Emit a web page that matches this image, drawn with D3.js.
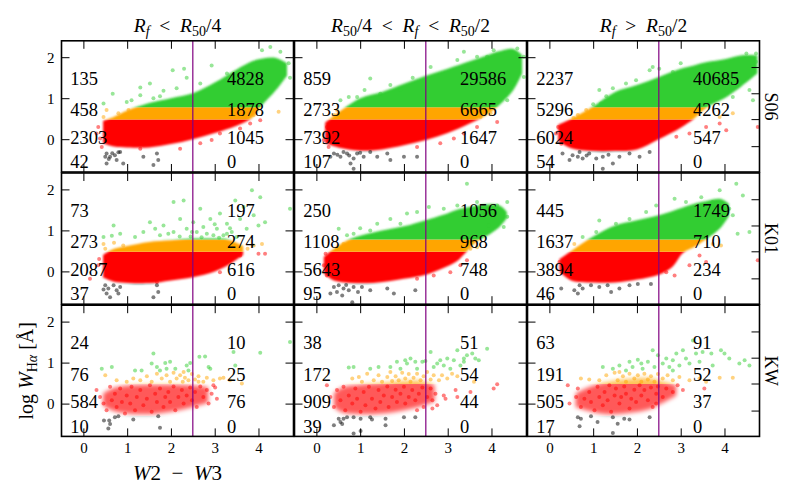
<!DOCTYPE html>
<html><head><meta charset="utf-8">
<script src="https://cdn.jsdelivr.net/npm/d3@7"></script>
<style>body{margin:0;background:#fff} svg text{font-family:"Liberation Serif","DejaVu Serif",serif;fill:#000}</style>
</head><body><svg id="c" width="800" height="500"></svg>
<script>
// ---------------- data ----------------
const colTitles = [
  [["R","i"],["f","isub"],["\u2002<\u2002",""],["R","i"],["50","sub"],["/4",""]],
  [["R","i"],["50","sub"],["/4\u2002<\u2002",""],["R","i"],["f","isub"],["\u2002<\u2002",""],["R","i"],["50","sub"],["/2",""]],
  [["R","i"],["f","isub"],["\u2002>\u2002",""],["R","i"],["50","sub"],["/2",""]]
];
const rowLabels = ["S06","K01","KW"];
const xTicks = [0,1,2,3,4];
const yTicks = [0,1,2];
const twinTicks = [1.76,1.12,0.49,-0.17];
const xDomain = [-0.5,4.8];
const yDomain = [-0.8,2.4];
const splitX = 2.5;
const bandEdges = [-0.3,0.48,0.78];
const bandColors = ["#000000","#ff0000","#ffa500","#32cd32"];
const countY = [1.48,0.72,0.04,-0.55];
const countX = [-0.3,3.28];

// counts [green, orange, red, black] left / right of split
const countsLeft = [
  [135,458,2303,42],[859,2733,7392,107],[2237,5296,6024,54],
  [73,273,2087,37],[250,1108,5643,95],[445,1637,3894,46],
  [24,76,584,10],[38,172,909,39],[63,191,505,17]
];
const countsRight = [
  [4828,1878,1045,0],[29586,6665,1647,0],[40685,4262,547,0],
  [197,274,616,0],[1056,968,748,0],[1749,710,234,0],
  [10,25,76,0],[51,54,44,0],[91,52,37,0]
];

// dense-cloud envelopes [x, lower, upper]
const env11 = [[0.45,-0.1,0.45],[0.7,-0.18,0.55],[1.0,-0.2,0.7],[1.5,-0.2,0.88],[2.0,-0.12,1.0],[2.5,0.0,1.12],[3.0,0.15,1.38],[3.5,0.33,1.7],[3.85,0.52,1.9],[4.1,0.85,1.97],[4.4,1.2,1.98],[4.65,1.55,1.85]];
const env12 = [[0.2,-0.1,0.4],[0.5,-0.2,0.65],[1.0,-0.28,1.0],[1.5,-0.25,1.15],[2.0,-0.15,1.35],[2.5,-0.02,1.55],[3.0,0.15,1.72],[3.5,0.38,1.9],[3.9,0.6,2.05],[4.2,0.85,2.15],[4.5,1.2,2.2],[4.7,1.6,2.05]];
const env13 = [[0.2,-0.05,0.35],[0.5,-0.22,0.5],[1.0,-0.29,0.8],[1.5,-0.29,1.15],[2.0,-0.25,1.32],[2.5,0.0,1.52],[3.0,0.28,1.72],[3.3,0.5,1.8],[3.6,0.78,1.88],[4.0,1.0,1.95],[4.4,1.3,2.05],[4.75,1.6,2.05]];
const env21 = [[0.45,-0.15,0.4],[0.7,-0.25,0.55],[1.0,-0.28,0.62],[1.5,-0.29,0.72],[2.0,-0.22,0.76],[2.5,-0.14,0.8],[3.0,0.0,0.8],[3.3,0.15,0.78],[3.65,0.4,0.62]];
const env22 = [[0.17,-0.05,0.35],[0.4,-0.22,0.55],[0.8,-0.28,0.8],[1.3,-0.28,0.95],[2.0,-0.18,1.1],[2.5,-0.08,1.25],[2.9,0.08,1.38],[3.2,0.24,1.5],[3.4,0.45,1.55],[3.65,0.72,1.6],[3.95,0.9,1.64],[4.2,1.1,1.6],[4.35,1.3,1.45]];
const env23 = [[0.23,0.0,0.3],[0.5,-0.22,0.5],[1.0,-0.27,0.85],[1.5,-0.27,1.12],[2.0,-0.2,1.25],[2.5,-0.08,1.37],[2.8,0.1,1.47],[3.05,0.45,1.56],[3.35,0.62,1.66],[3.6,0.8,1.72],[3.9,1.05,1.77],[4.1,1.35,1.65]];
const env31 = [[0.45,-0.05,0.25],[0.7,-0.18,0.38],[1.0,-0.24,0.44],[1.5,-0.26,0.46],[2.0,-0.2,0.46],[2.5,-0.08,0.44],[2.85,0.02,0.4]];
const env32 = [[0.4,-0.08,0.25],[0.6,-0.22,0.4],[1.0,-0.26,0.46],[1.5,-0.24,0.5],[2.0,-0.16,0.55],[2.4,-0.06,0.55],[2.7,0.05,0.45]];
const env33 = [[0.6,-0.08,0.25],[0.9,-0.18,0.4],[1.3,-0.26,0.52],[1.8,-0.23,0.6],[2.3,-0.13,0.62],[2.55,0.0,0.55],[2.9,0.2,0.45]];

// scattered points [x, y]
const pts11 = [[0.46,0.87],[0.67,1.11],[1.3,1.26],[1.52,1.36],[2.04,1.68],[2.3,1.72],[2.93,1.8],[4.27,2.25],[4.69,1.85],[4.72,1.5],[3.28,1.6],[1.83,1.18],[0.99,0.91],[2.36,1.5],[2.67,1.36],[3.66,1.44],[1.3,1.07],[2.13,1.24],[4.08,2.17],[4.5,2.13],[1.6,1.0],[1.1,0.95],[1.75,1.05],
 [0.53,0.71],[0.8,0.63],[1.03,0.71],[4.46,0.67],[0.46,0.54],[3.89,0.59],
 [0.3,0.14],[0.34,0.3],[0.42,-0.19],[1.3,-0.23],[2.21,-0.23],[2.67,-0.1],[3.12,0.14],[3.58,0.26],[3.81,0.38],[4.04,0.46],[2.93,-0.02],[0.38,0.02],
 [0.53,-0.35],[0.61,-0.43],[0.72,-0.39],[0.84,-0.31],[0.76,-0.51],[0.53,-0.59],[0.91,-0.59],[1.37,-0.43],[1.68,-0.35],[1.71,-0.51],[1.6,-0.63],[0.8,-0.32],[0.5,-0.43],[0.66,-0.34],[0.58,-0.48]];
const pts12 = [[0.74,1.03],[0.55,0.95],[1.23,1.48],[1.69,1.32],[1.92,1.2],[3.37,2.13],[3.67,2.01],[3.9,2.01],[4.05,2.17],[4.59,2.21],[4.74,2.01],[4.74,1.52],[3.22,1.93],[2.61,1.76],[1.46,1.11],[0.93,1.03],[4.36,0.95],[4.47,1.36],[1.1,1.2],[2.2,1.5],
 [0.47,0.71],[0.62,0.63],[3.98,0.63],[3.75,0.54],[0.4,0.59],
 [0.24,0.3],[0.17,-0.02],[0.28,-0.19],[2.3,-0.19],[2.83,-0.1],[3.37,0.14],[3.67,0.3],[4.13,0.42],[3.14,0.02],
 [0.4,-0.35],[0.55,-0.43],[0.7,-0.35],[0.85,-0.47],[0.62,-0.31],[0.93,-0.35],[1.08,-0.43],[0.78,-0.59],[1.23,-0.31],[1.39,-0.43],[1.62,-0.35],[1.69,-0.51],[2.0,-0.43],[2.3,-0.43],[0.85,-0.72],[0.32,-0.43],[0.48,-0.38],[0.75,-0.4],[1.0,-0.33]];
const pts13 = [[1.18,0.87],[1.14,1.2],[1.45,1.24],[1.75,1.36],[1.98,1.44],[2.29,1.68],[2.51,1.72],[2.82,1.64],[4.5,2.09],[4.72,2.09],[4.72,1.89],[4.65,0.95],[4.57,1.2],[4.19,1.03],[2.36,1.76],[1.0,0.85],[1.3,1.05],[3.0,1.85],
 [0.65,0.59],[0.84,0.71],[4.19,0.63],[3.89,0.54],[0.55,0.52],
 [0.15,0.14],[0.27,-0.11],[3.89,0.38],[4.04,0.22],[4.76,0.3],[2.9,0.06],[3.2,0.14],[3.58,0.3],[0.2,0.3],
 [0.3,-0.35],[0.53,-0.39],[0.69,-0.31],[0.76,-0.47],[0.65,-0.43],[0.91,-0.35],[1.07,-0.47],[1.22,-0.43],[1.45,-0.59],[1.6,-0.43],[1.83,-0.35],[2.06,-0.43],[2.29,-0.31],[1.22,-0.72],[0.46,-0.51],[1.35,-0.38],[0.85,-0.4]];
const pts21 = [[0.46,0.84],[0.69,1.12],[0.65,0.87],[1.18,0.84],[1.37,0.96],[1.52,1.2],[1.64,1.04],[1.83,1.12],[1.94,0.92],[2.06,1.69],[2.29,1.73],[2.21,1.28],[2.36,1.04],[2.51,1.2],[2.59,0.96],[2.67,1.53],[2.74,1.08],[2.82,0.92],[2.9,1.28],[3.05,1.04],[3.12,1.41],[3.2,0.88],[3.28,1.16],[3.39,0.96],[3.47,1.73],[3.58,1.28],[3.66,1.57],[3.73,1.04],[3.85,1.98],[3.89,1.37],[4.0,1.12],[4.04,1.81],[4.15,1.2],[4.72,1.53],[2.48,0.96],[2.97,0.88],[2.06,0.96],[1.75,0.88],[0.84,0.92],[3.28,0.92],[3.5,0.84],[2.7,0.83],[3.0,1.15],[3.35,1.05],[2.45,0.85],[3.1,0.82],[2.2,0.85],
 [0.46,0.67],[0.5,0.55],[3.89,0.63],[4.08,0.67],[0.91,0.63],[0.7,0.7],[3.75,0.55],
 [0.15,-0.18],[0.34,0.15],[3.58,0.39],[4.0,0.43],[4.15,0.43],[3.12,-0.02],[1.68,-0.26],[0.36,0.3],
 [0.5,-0.34],[0.57,-0.42],[0.69,-0.34],[0.76,-0.46],[0.84,-0.38],[0.53,-0.54],[0.61,-0.63],[0.8,-0.54],[1.68,-0.34],[1.71,-0.5],[1.6,-0.63],[0.46,-0.44]];
const pts22 = [[0.51,1.04],[0.7,0.88],[0.85,0.92],[1.69,1.28],[1.92,1.16],[2.3,1.45],[2.57,1.57],[2.53,1.2],[3.22,1.61],[3.44,2.14],[3.67,1.69],[3.98,1.45],[4.13,1.61],[4.36,1.69],[4.36,1.33],[4.28,1.08],[3.94,1.12],[1.39,1.16],[1.23,1.0],[2.07,1.41],[2.91,1.53],[1.0,1.05],
 [0.47,0.55],[3.67,0.59],[3.52,0.55],[0.62,0.67],
 [0.21,0.43],[0.17,0.15],[0.24,-0.1],[3.06,-0.02],[3.29,0.15],[3.44,0.27],[2.68,-0.1],[2.3,-0.18],
 [0.32,-0.54],[0.4,-0.38],[0.51,-0.34],[0.62,-0.42],[0.74,-0.46],[0.85,-0.38],[0.59,-0.59],[1.04,-0.38],[1.23,-0.46],[1.62,-0.42],[1.77,-0.54],[2.26,-0.46],[0.82,-0.75],[0.47,-0.5],[0.68,-0.33],[0.95,-0.5]];
const pts23 = [[0.76,0.84],[1.14,1.24],[1.07,0.96],[1.52,1.16],[1.83,1.28],[2.21,1.45],[2.44,1.61],[2.86,1.77],[3.12,1.69],[3.47,1.81],[3.89,1.98],[4.27,2.14],[4.42,1.85],[4.19,1.37],[4.57,0.96],[4.3,0.92],[4.11,1.53],[3.73,1.69],
 [0.57,0.67],[0.76,0.55],[3.92,0.63],[3.73,0.67],
 [0.23,0.23],[0.3,-0.02],[3.43,0.39],[3.58,0.23],[3.2,0.15],[2.86,-0.1],[4.76,0.27],[2.67,-0.02],
 [0.27,-0.42],[0.57,-0.46],[0.69,-0.34],[0.65,-0.54],[0.76,-0.42],[0.95,-0.34],[1.14,-0.38],[1.33,-0.34],[1.41,-0.5],[1.6,-0.42],[1.83,-0.34],[2.02,-0.31],[2.32,-0.31]];
const pts31 = [[0.42,0.85],[0.65,0.89],[1.18,0.81],[1.33,0.81],[1.6,1.22],[1.56,0.98],[1.68,0.89],[1.75,0.81],[1.87,0.99],[1.98,1.02],[2.1,0.85],[2.36,0.93],[2.4,0.81],[2.44,0.99],[2.65,1.14],[2.78,1.15],[2.86,0.89],[2.9,0.85],[3.43,1.26],[3.47,0.93],[4.04,1.24],[4.72,1.5],[1.9,0.85],
 [0.5,0.69],[0.76,0.57],[0.99,0.53],[1.14,0.61],[1.3,0.57],[1.45,0.67],[1.56,0.53],[1.68,0.73],[1.79,0.61],[1.9,0.69],[1.98,0.53],[2.06,0.75],[2.13,0.61],[2.21,0.69],[2.27,0.53],[2.32,0.63],[2.4,0.57],[2.48,0.72],[2.55,0.59],[2.63,0.67],[2.74,0.53],[2.82,0.63],[2.97,0.57],[3.12,0.61],[3.2,0.63],[3.35,0.57],[3.62,0.49],[2.29,0.77],[2.63,0.53],
 [0.3,0.33],[0.38,0.16],[0.46,0.0],[0.53,-0.16],[0.61,0.41],[0.65,0.08],[0.72,0.24],[0.76,-0.08],[0.84,0.37],[0.88,0.04],[0.95,-0.24],[0.99,0.2],[1.07,0.0],[1.1,0.41],[1.18,-0.16],[1.22,0.16],[1.3,0.33],[1.37,-0.04],[1.45,0.12],[1.52,0.45],[1.56,-0.2],[1.64,0.24],[1.68,0.04],[1.75,0.37],[1.83,-0.08],[1.87,0.16],[1.94,0.28],[1.98,0.04],[2.06,0.42],[2.1,-0.16],[2.17,0.16],[2.25,0.33],[2.29,0.0],[2.36,0.2],[2.44,0.39],[2.48,0.08],[2.55,0.28],[2.59,-0.08],[2.67,0.42],[2.74,0.16],[2.82,0.33],[2.86,0.0],[2.93,0.24],[3.01,0.39],[3.05,0.12],[2.97,0.45],
 [0.47,-0.41],[0.59,-0.41],[0.72,-0.33],[0.8,-0.31],[0.61,-0.5],[0.57,-0.61],[1.14,-0.39],[1.71,-0.31],[1.75,-0.59]];
const pts32 = [[0.74,0.88],[0.85,0.89],[1.23,0.85],[1.69,0.89],[1.84,1.02],[2.03,1.06],[2.07,0.98],[2.15,1.1],[2.26,1.02],[2.3,0.85],[2.42,1.02],[2.49,1.04],[2.61,1.26],[2.68,0.89],[2.76,0.98],[2.83,1.06],[2.91,0.93],[2.99,1.1],[3.06,0.85],[3.14,1.06],[3.22,1.3],[3.29,0.93],[3.37,1.1],[3.44,1.18],[3.56,1.22],[3.63,1.1],[3.71,1.06],[3.9,1.34],[3.37,1.02],[1.92,0.85],[1.42,0.89],
 [0.82,0.61],[0.97,0.65],[1.04,0.53],[1.16,0.73],[1.31,0.57],[1.42,0.69],[1.5,0.53],[1.62,0.65],[1.69,0.77],[1.73,0.55],[1.81,0.67],[1.88,0.57],[1.96,0.75],[2.03,0.61],[2.11,0.72],[2.15,0.53],[2.22,0.63],[2.3,0.73],[2.38,0.57],[2.45,0.67],[2.53,0.77],[2.61,0.59],[2.68,0.69],[2.8,0.57],[2.87,0.69],[2.99,0.61],[3.1,0.73],[3.22,0.67],[3.6,0.53],
 [0.24,0.45],[0.32,0.16],[0.4,-0.08],[0.47,0.33],[0.55,0.08],[0.62,0.41],[0.66,-0.16],[0.74,0.2],[0.82,0.0],[0.89,0.37],[0.93,0.12],[1.01,-0.2],[1.08,0.28],[1.12,-0.04],[1.2,0.41],[1.27,0.12],[1.35,-0.12],[1.42,0.33],[1.46,0.04],[1.54,0.2],[1.62,0.42],[1.65,-0.08],[1.73,0.16],[1.81,0.34],[1.84,0.04],[1.92,0.24],[2.0,0.41],[2.03,0.0],[2.11,0.16],[2.19,0.33],[2.26,0.08],[2.34,0.24],[2.42,0.39],[2.45,-0.08],[2.53,0.16],[2.61,0.37],[2.65,0.08],[2.72,0.24],[2.76,-0.04],[2.91,0.2],[2.95,0.12],[3.18,0.33],[3.22,0.16],[3.52,0.28],[4.13,0.47],[4.05,0.37],[2.65,-0.12],[2.3,-0.16],
 [0.4,-0.53],[0.51,-0.37],[0.55,-0.45],[0.62,-0.37],[0.7,-0.33],[0.59,-0.5],[0.85,-0.33],[1.01,-0.37],[1.23,-0.33],[1.27,-0.39],[1.58,-0.37],[1.58,-0.53],[2.0,-0.33],[2.26,-0.33],[0.85,-0.73],[1.01,-0.67]];
const pts33 = [[1.22,0.89],[1.45,0.85],[1.6,0.93],[1.83,1.02],[1.9,0.89],[2.02,1.07],[2.1,0.98],[2.13,0.85],[2.25,1.02],[2.36,1.3],[2.4,0.89],[2.48,1.18],[2.59,0.98],[2.67,1.1],[2.74,0.89],[2.82,1.06],[2.9,1.22],[2.97,0.93],[3.05,1.3],[3.12,1.1],[3.2,0.98],[3.28,1.54],[3.35,1.22],[3.43,1.02],[3.5,1.26],[3.7,1.22],[3.73,0.93],[3.92,1.3],[4.0,1.22],[4.34,0.98],[4.46,1.06],[4.57,0.93],[4.11,1.1],[2.82,0.81],[1.75,0.81],
 [0.72,0.61],[0.91,0.59],[1.14,0.57],[1.3,0.69],[1.49,0.75],[1.56,0.57],[1.68,0.67],[1.75,0.53],[1.83,0.73],[1.94,0.61],[2.02,0.69],[2.1,0.53],[2.17,0.73],[2.25,0.59],[2.32,0.67],[2.4,0.53],[2.48,0.72],[2.59,0.61],[2.7,0.69],[2.82,0.57],[2.97,0.65],[3.2,0.57],[3.43,0.61],[3.58,0.53],[3.89,0.63],[4.19,0.63],[1.6,0.77],
 [0.42,0.45],[0.46,0.0],[0.61,0.16],[0.65,0.37],[0.72,-0.08],[0.8,0.12],[0.91,0.28],[0.95,0.04],[1.03,-0.16],[1.1,0.41],[1.14,0.16],[1.22,-0.04],[1.26,0.28],[1.33,0.08],[1.37,0.45],[1.41,-0.2],[1.49,0.2],[1.52,0.37],[1.6,0.0],[1.64,0.16],[1.71,0.42],[1.75,0.24],[1.83,-0.12],[1.87,0.12],[1.94,0.34],[1.98,0.04],[2.06,0.45],[2.1,0.2],[2.17,0.33],[2.25,0.08],[2.32,0.39],[2.36,-0.08],[2.44,0.24],[2.48,0.42],[2.59,0.16],[2.67,0.37],[2.82,0.28],[2.93,0.45],[3.05,0.33],[3.54,0.37],[2.44,0.0],
 [0.65,-0.33],[0.72,-0.37],[0.69,-0.55],[0.95,-0.31],[1.1,-0.45],[1.45,-0.33],[1.56,-0.49],[1.71,-0.37],[1.83,-0.39],[2.29,-0.33],[1.45,-0.72]];

const envelopes = [env11,env12,env13,env21,env22,env23,env31,env32,env33];
const points = [pts11,pts12,pts13,pts21,pts22,pts23,pts31,pts32,pts33];

// ---------------- layout ----------------
const colLeft = [61.5,294.5,527.5];
const rowTop = [40.8,173,305.2];
const panelW = 232, panelH = 131.2;
const envOpacity = [1,1,0.65];
const envBlur = [1.3,1.3,2.2];

const svg = d3.select("#c");
const defs = svg.append("defs");
const x = d3.scaleLinear().domain(xDomain).range([0,panelW]);
const y = d3.scaleLinear().domain(yDomain).range([panelH,0]);
const band = d3.scaleThreshold().domain(bandEdges).range(bandColors);
const bandBounds = [yDomain[0],...bandEdges,yDomain[1]];

defs.append("clipPath").attr("id","pclip").append("rect").attr("width",panelW).attr("height",panelH);
bandColors.forEach((c,i)=>{
  defs.append("clipPath").attr("id","band"+i).append("rect")
    .attr("x",-5).attr("width",panelW+10)
    .attr("y",y(bandBounds[i+1])).attr("height",y(bandBounds[i])-y(bandBounds[i+1]));
});
envBlur.forEach((s,i)=>{
  defs.append("filter").attr("id","soft"+i).attr("x","-10%").attr("y","-20%").attr("width","120%").attr("height","140%")
    .append("feGaussianBlur").attr("stdDeviation",s);
});

const area = d3.area().x(d=>x(d[0])).y0(d=>y(d[1])).y1(d=>y(d[2])).curve(d3.curveCatmullRom);
const FONT = '"Liberation Serif","DejaVu Serif",serif';

function styleAxis(g){
  g.select(".domain").remove();
  g.attr("font-family",FONT).attr("font-size",15);
  g.selectAll(".tick line").attr("stroke","#000").attr("stroke-width",1);
  g.selectAll(".tick text").attr("fill","#000");
}

points.forEach((pts,k)=>{
  const r = Math.floor(k/3), c = k%3;
  const g = svg.append("g").attr("transform",`translate(${colLeft[c]},${rowTop[r]})`);
  const inner = g.append("g").attr("clip-path","url(#pclip)");
  bandColors.forEach((col,i)=>{
    inner.append("g").attr("clip-path",`url(#band${i})`)
      .append("path").datum(envelopes[k]).attr("d",area)
      .attr("fill",col).attr("fill-opacity",envOpacity[r])
      .attr("filter",`url(#soft${r})`);
  });
  inner.selectAll("circle").data(pts).join("circle")
    .attr("cx",d=>x(d[0])).attr("cy",d=>y(d[1])).attr("r",2)
    .attr("fill",d=>band(d[1])).attr("fill-opacity",0.5);
  inner.append("line").attr("x1",x(splitX)).attr("x2",x(splitX)).attr("y1",0).attr("y2",panelH)
    .attr("stroke","#800080").attr("stroke-width",1.2);
  [countsLeft[k],countsRight[k]].forEach((cs,side)=>{
    cs.forEach((v,j)=>{
      g.append("text").attr("x",x(countX[side])).attr("y",y(countY[j])).attr("dy","0.35em")
        .attr("font-size",18.5).text(v);
    });
  });
  g.append("g").attr("transform",`translate(0,${panelH})`)
    .call(d3.axisBottom(x).tickValues(xTicks).tickSize(-8).tickPadding(6).tickFormat(r===2?d3.format("d"):()=>""))
    .call(styleAxis);
  g.append("g").call(d3.axisTop(x).tickValues(xTicks).tickSize(-8).tickFormat(()=>"")).call(styleAxis);
  g.append("g")
    .call(d3.axisLeft(y).tickValues(yTicks).tickSize(-8).tickPadding(7).tickFormat(c===0?d3.format("d"):()=>""))
    .call(styleAxis);
  g.append("g").attr("transform",`translate(${panelW},0)`)
    .call(d3.axisRight(y).tickValues(c===2?twinTicks:yTicks).tickSize(-8).tickFormat(()=>""))
    .call(styleAxis);
  g.append("rect").attr("width",panelW).attr("height",panelH)
    .attr("fill","none").attr("stroke","#000").attr("stroke-width",1.6);
});

// column titles
colTitles.forEach((parts,c)=>{
  const t = svg.append("text").attr("x",colLeft[c]+panelW/2).attr("y",32)
    .attr("text-anchor","middle").attr("font-size",19.5);
  let shifted = false;
  parts.forEach(([s,st])=>{
    const ts = t.append("tspan").text(s);
    if(st==="sub"||st==="isub"){ ts.attr("font-size",14).attr("dy",shifted?0:4); shifted=true; }
    else if(shifted){ ts.attr("dy",-4); shifted=false; }
    if(st==="i"||st==="isub") ts.attr("font-style","italic");
  });
});

// row labels
rowLabels.forEach((lab,r)=>{
  svg.append("text").attr("transform",`translate(771,${rowTop[r]+panelH/2}) rotate(90)`)
    .attr("text-anchor","middle").attr("dy","0.35em").attr("font-size",18).text(lab);
});

// x label
const xl = svg.append("text").attr("x",colLeft[0]+x(2.15)).attr("y",480).attr("text-anchor","middle").attr("font-size",21);
xl.append("tspan").attr("font-style","italic").text("W");
xl.append("tspan").text("2\u2002\u2212\u2002");
xl.append("tspan").attr("font-style","italic").text("W");
xl.append("tspan").text("3");

// y label
const yl = svg.append("text").attr("transform",`translate(26,${rowTop[2]+panelH/2}) rotate(-90)`)
  .attr("text-anchor","middle").attr("dy","0.35em").attr("font-size",20);
yl.append("tspan").text("log ");
yl.append("tspan").attr("font-style","italic").text("W");
yl.append("tspan").attr("font-size",14).attr("dy",4).text("H");
yl.append("tspan").attr("font-size",14).attr("font-style","italic").text("\u03b1");
yl.append("tspan").attr("dy",-4).text(" [\u00c5]");
</script>
</body></html>
